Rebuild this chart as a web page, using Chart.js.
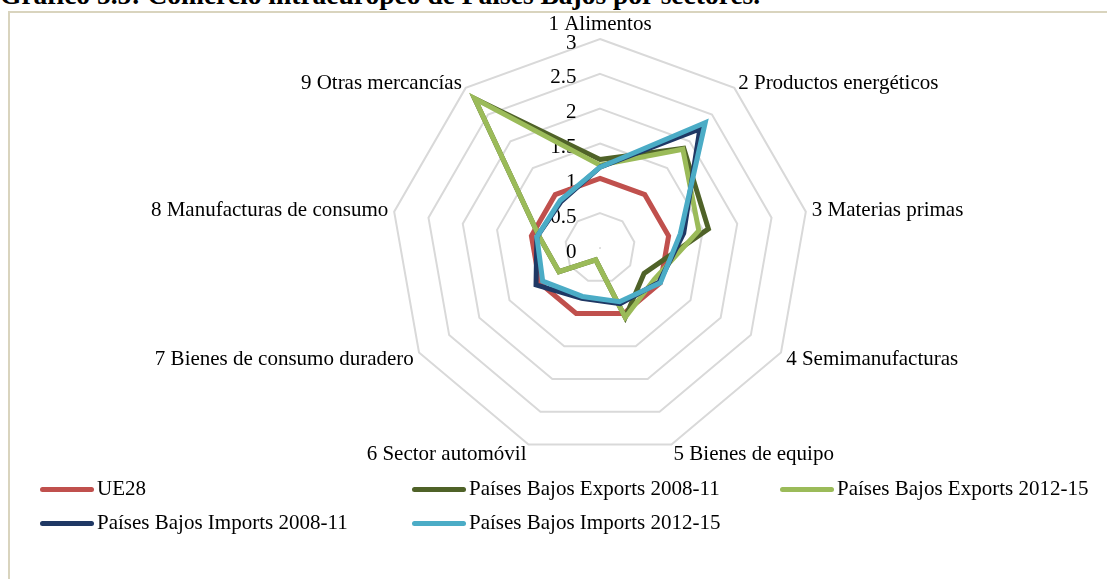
<!DOCTYPE html>
<html>
<head>
<meta charset="utf-8">
<script src="https://cdn.jsdelivr.net/npm/chart.js@4.4.1/dist/chart.umd.min.js"></script>
<style>
  body { margin: 0; width: 1107px; height: 579px; overflow: hidden; background: #fff; position: relative; font-family: "Liberation Serif", "Times New Roman", serif; }
  #title { position: absolute; left: 0; top: -21.5px; font-weight: bold; font-size: 27.5px; white-space: nowrap; color: #000; }
  #frame { position: absolute; left: 8px; top: 11px; width: 1200px; height: 700px; border: 2px solid #D9D4BE; }
  #wrap { position: absolute; left: 0; top: 0; width: 1107px; height: 579px; }
  .leg { position: absolute; font-size: 21px; color: #000; white-space: nowrap; }
  .leg span.sw { display: inline-block; width: 54px; height: 5px; border-radius: 3px; vertical-align: middle; margin-right: 3px; position: relative; top: -1px; }
</style>
</head>
<body>
<div id="title">Gráfico 5.5: Comercio intraeuropeo de Países Bajos por sectores.</div>
<div id="frame"></div>
<div id="wrap"><canvas id="radar"></canvas></div>
<div id="legend"></div>
<script>
const sectores = ['1 Alimentos', '2 Productos energéticos', '3 Materias primas', '4 Semimanufacturas',
  '5 Bienes de equipo', '6 Sector automóvil', '7 Bienes de consumo duradero',
  '8 Manufacturas de consumo', '9 Otras mercancías'];
const ue28 = [1, 1, 1, 1, 1, 1, 1, 1, 1];
const expo0811 = [1.27, 1.87, 1.58, 0.73, 1.06, 0.18, 0.68, 0.88, 2.8];
const expo1215 = [1.19, 1.85, 1.44, 0.9, 1.06, 0.18, 0.68, 0.88, 2.8];
const impo0811 = [1.16, 2.23, 1.22, 0.98, 0.85, 0.77, 1.06, 0.92, 0.87];
const impo1215 = [1.16, 2.35, 1.17, 1.0, 0.82, 0.74, 0.95, 0.92, 0.89];
const tickValues = [0, 0.5, 1, 1.5, 2, 2.5, 3];

const series = [
  {label: 'UE28', data: ue28, color: '#C0504D'},
  {label: 'Países Bajos Exports 2008-11', data: expo0811, color: '#4F6228'},
  {label: 'Países Bajos Exports 2012-15', data: expo1215, color: '#9BBB59'},
  {label: 'Países Bajos Imports 2008-11', data: impo0811, color: '#1F3864'},
  {label: 'Países Bajos Imports 2012-15', data: impo1215, color: '#4BACC6'}
];

// legend laid out like the original (three columns)
const legPos = [[40, 476], [412, 476], [780, 476], [40, 510], [412, 510]];
const legend = document.getElementById('legend');
series.forEach((s, i) => {
  const d = document.createElement('div');
  d.className = 'leg';
  d.style.left = legPos[i][0] + 'px';
  d.style.top = legPos[i][1] + 'px';
  d.innerHTML = '<span class="sw" style="background:' + s.color + '"></span>' + s.label;
  legend.appendChild(d);
});

// label line heights tuned so each sector name sits where Excel put it
const labelLH = [18, 0.1, 0.1, 8, 8, 8, 8, 0.1, 0.1];

const ctx = document.getElementById('radar');
new Chart(ctx, {
  type: 'radar',
  data: {
    labels: sectores,
    datasets: series.map((s, i) => ({
      label: s.label,
      data: s.data,
      borderColor: s.color,
      backgroundColor: 'transparent',
      borderWidth: 5,
      pointRadius: 0,
      fill: false,
      order: series.length - i   // later series drawn on top, like Excel
    }))
  },
  options: {
    responsive: true,
    maintainAspectRatio: false,
    animation: false,
    layout: { padding: { top: 8, bottom: 104, left: 93, right: 0 } },
    plugins: { legend: { display: false }, tooltip: { enabled: false } },
    scales: {
      r: {
        min: -0.0001, // so the "0" tick label is drawn
        max: 3,
        afterBuildTicks: (scale) => { scale.ticks = tickValues.map(v => ({value: v})); },
        angleLines: { display: false },
        grid: { color: '#D9D9D9', lineWidth: 2 },
        pointLabels: {
          color: '#000',
          padding: -4.5,
          font: (c) => ({ family: 'Liberation Serif', size: 21, lineHeight: labelLH[c.index] + 'px' })
        },
        ticks: {
          color: '#000',
          showLabelBackdrop: false,
          backdropPadding: 0,
          font: { family: 'Liberation Serif', size: 21, lineHeight: '4px' },
          callback: (v) => {
            const s = String(v);
            const pad = s.length > 1 ? '\u2002\u2002\u2002\u2002\u2002\u2002\u2002' : '\u2002\u2002\u2002\u2002\u2002 ';
            return ['', s + pad];
          }
        }
      }
    }
  }
});
</script>
</body>
</html>
